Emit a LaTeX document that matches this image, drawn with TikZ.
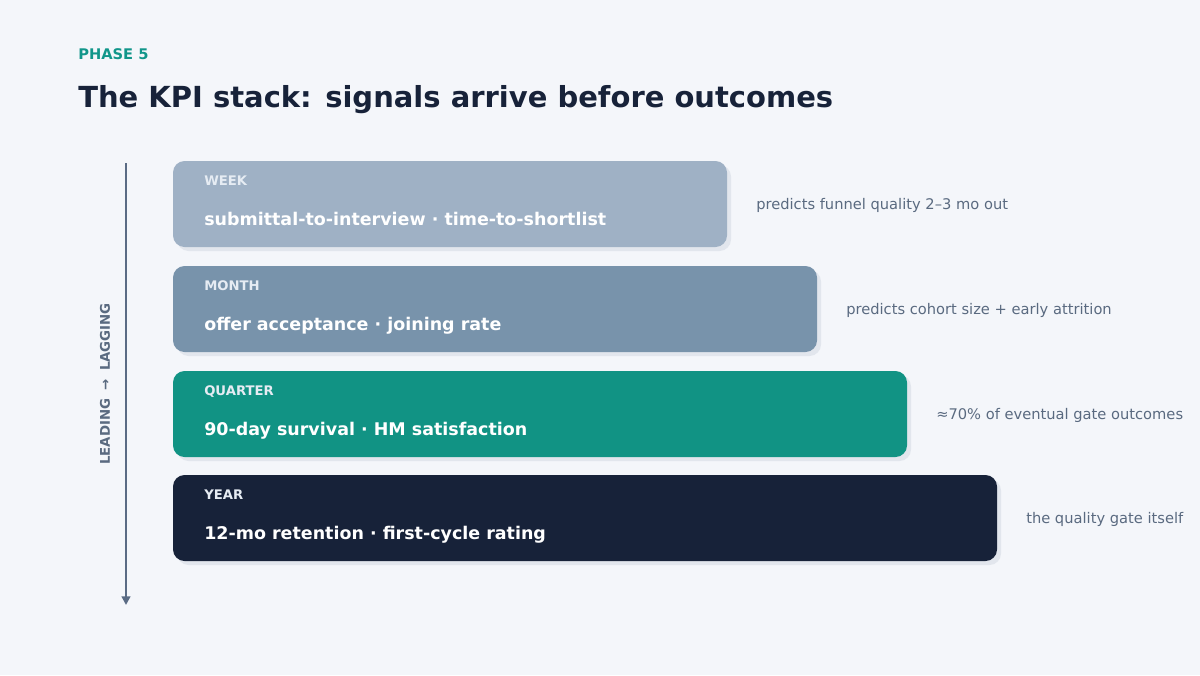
\documentclass[tikz,border=0pt]{standalone}
\usepackage{fontspec}
\setmainfont{DejaVu Sans}
\usetikzlibrary{arrows.meta}
\definecolor{bg}{HTML}{F4F6FA}
\definecolor{navy}{HTML}{172239}
\definecolor{teal}{HTML}{11968A}
\definecolor{cweek}{HTML}{9FB1C5}
\definecolor{cmonth}{HTML}{7893AB}
\definecolor{cquarter}{HTML}{119384}
\definecolor{cyear}{HTML}{172239}
\definecolor{sidegray}{HTML}{5A6A80}
\definecolor{axisgray}{HTML}{5A6B84}
\definecolor{shadowc}{HTML}{E2E6ED}
\definecolor{tagc}{HTML}{E6ECF3}
\tikzset{
  bar/.style={rounded corners=11.5*0.75pt},
  shadowbar/.style={fill=shadowc, rounded corners=11.5*0.75pt},
  tag/.style={anchor=base west, inner sep=0pt, text=tagc, font=\fontsize{9.9pt}{11pt}\selectfont\bfseries},
  metric/.style={anchor=base west, inner sep=0pt, text=white, font=\fontsize{13.1pt}{15pt}\selectfont\bfseries},
  side/.style={anchor=base west, inner sep=0pt, text=sidegray, font=\fontsize{11pt}{13pt}\selectfont},
}
\begin{document}
\begin{tikzpicture}[x=0.75pt,y=-0.75pt]
\fill[bg] (0,0) rectangle (1200,675);
\useasboundingbox (0,0) rectangle (1200,675);
\node[anchor=base west, inner sep=0pt, text=teal, font=\fontsize{11pt}{13pt}\selectfont\bfseries] (phase) at (78,59) {PHASE 5};
\node[anchor=base west, inner sep=0pt, text=navy, font=\fontsize{21.75pt}{26pt}\selectfont\bfseries] (title) at (78,107) {The KPI stack: signals arrive before outcomes};
% axis
\coordinate (atop) at (126,163);
\coordinate (abot) at (126,605);
\draw[axisgray, line width=1.6pt, -{Triangle[length=6.5pt,width=6.5pt]}] (atop) -- (abot);
\node[rotate=90, inner sep=0pt, text=sidegray, font=\fontsize{10pt}{11pt}\selectfont\bfseries] (axislbl) at (105,384) {LEADING \;→\; LAGGING};
% bars
\foreach \y/\w/\c/\t/\m/\s/\n in {
  161/727/cweek/WEEK/{submittal-to-interview · time-to-shortlist}/{predicts funnel quality 2–3 mo out}/b1,
  266/817/cmonth/MONTH/{offer acceptance · joining rate}/{predicts cohort size + early attrition}/b2,
  371/907/cquarter/QUARTER/{90-day survival · HM satisfaction}/{≈70\% of eventual gate outcomes}/b3,
  475/997/cyear/YEAR/{12-mo retention · first-cycle rating}/{the quality gate itself}/b4}{
  \fill[shadowbar] (177,\y+4) rectangle (\w+4,\y+90);
  \fill[bar, \c] (173,\y) rectangle (\w,\y+86);
  \node[tag] (\n t) at (204,\y+24) {\t};
  \node[metric] (\n m) at (204,\y+64) {\m};
  \node[side] (\n s) at (\w+29,\y+48) {\s};
}
\end{tikzpicture}
\end{document}
